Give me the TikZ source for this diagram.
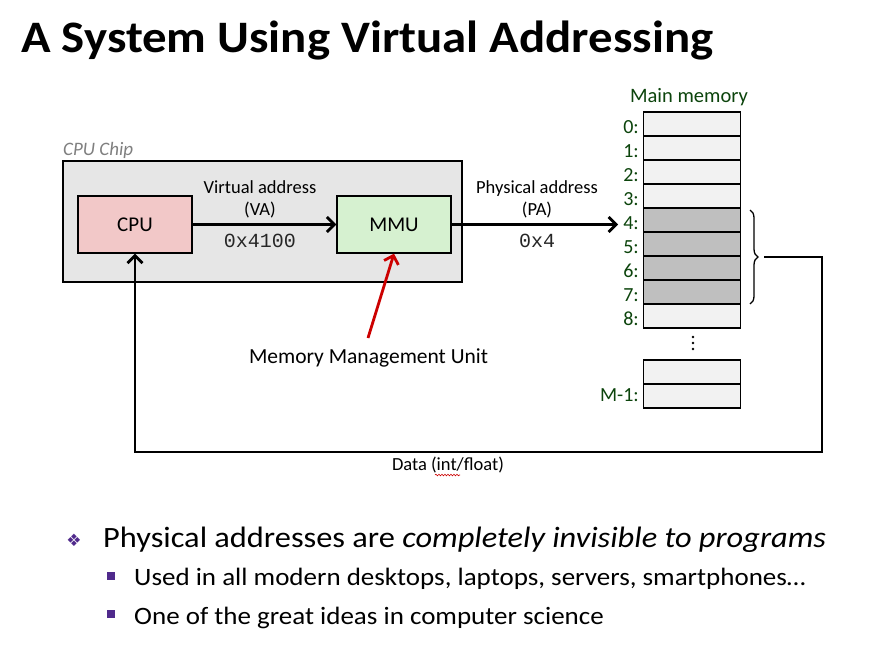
\documentclass[tikz,border=0pt]{standalone}
\usepackage{fontspec}
\setmainfont{Carlito}
\newfontfamily\monof{Liberation Mono}
\newfontfamily\dejavu{DejaVu Sans}
\usetikzlibrary{arrows.meta,decorations.pathreplacing,decorations.pathmorphing,calc}
\definecolor{chipgray}{RGB}{230,230,230}
\definecolor{cpupink}{RGB}{242,200,200}
\definecolor{mmugreen}{RGB}{214,241,208}
\definecolor{celllight}{RGB}{242,242,242}
\definecolor{celldark}{RGB}{191,191,191}
\definecolor{memgreen}{RGB}{12,68,12}
\definecolor{arrred}{RGB}{204,0,0}
\definecolor{bulpurple}{RGB}{80,42,140}
\definecolor{labgray}{RGB}{128,128,128}
\tikzset{
  box/.style={draw, line width=1.3pt, minimum width=114pt, minimum height=57pt, inner sep=0pt, font=\fontsize{21}{24}\selectfont},
  cell/.style={draw, line width=1.8pt, minimum width=97pt, minimum height=24pt, inner sep=0pt},
  memlab/.style={text=memgreen, font=\fontsize{20}{22}\selectfont, inner sep=2pt},
  smalllab/.style={font=\fontsize{18.5}{21}\selectfont, inner sep=0pt, anchor=base},
  hexlab/.style={font=\monof\fontsize{20}{22}\selectfont, inner sep=0pt, anchor=base, text=black!85},
  arr/.style={line width=2.8pt, -{Straight Barb[length=7.5pt,width=15pt,line width=2.8pt]}},
  redarr/.style={arr, draw=arrred, -{Straight Barb[length=7.5pt,width=15pt,line width=2.8pt,color=arrred]}},
}
\begin{document}
\begin{tikzpicture}[x=1pt,y=-1pt]
\useasboundingbox[fill=white] (0,0) rectangle (874,657);

% title
\node[anchor=base west, inner sep=0pt, font=\bfseries\fontsize{45}{48}\selectfont] (title) at (21,52) {\scalebox{1.085}[1]{A System Using Virtual Addressing}};

% CPU chip
\node[draw, line width=1.3pt, fill=chipgray, minimum width=399pt, minimum height=121pt, inner sep=0pt] (chip) at (262.5,221.5) {};
\node[anchor=base west, inner sep=0pt, text=labgray, font=\itshape\fontsize{19}{22}\selectfont] (chiplab) at (63,155) {CPU Chip};

\node[box, fill=cpupink] (cpu) at (135,224.5) {CPU};
\node[box, fill=mmugreen] (mmu) at (394,224.5) {MMU};

\draw[arr] (cpu) -- (mmu);
\node[smalllab] (va1) at (260,193) {Virtual address};
\node[smalllab] (va2) at (260,215) {(VA)};
\node[hexlab] (vahex) at (260,247) {0x4100};

% memory
\node[anchor=base, inner sep=0pt, text=memgreen, font=\fontsize{20.5}{23}\selectfont] (memtitle) at (689,102) {Main memory};
\foreach \i in {0,...,8}{
  \ifnum\i<4
    \node[cell, fill=celllight] (m\i) at (692,{124+24*\i}) {};
  \else\ifnum\i<8
    \node[cell, fill=celldark] (m\i) at (692,{124+24*\i}) {};
  \else
    \node[cell, fill=celllight] (m\i) at (692,{124+24*\i}) {};
  \fi\fi
  \node[memlab, anchor=base east] (l\i) at (641,{133+24*\i}) {\i:};
}
\node[cell, fill=celllight] (mA) at (692,372) {};
\node[cell, fill=celllight] (mB) at (692,396) {};
\node[memlab, anchor=base east] (lM) at (641,401) {M-1:};
\foreach \d in {337,343,349}{
  \fill (693,\d) circle (1.3pt);
}

\draw[arr, shorten >=3pt] (mmu.east) -- (mmu.east -| l4.west);
\node[smalllab] (pa1) at (537,193) {Physical address};
\node[smalllab] (pa2) at (537,215) {(PA)};
\node[hexlab] (pahex) at (537,247) {0x4};

% brace and data path
\draw[line width=1.3pt, decorate, decoration={brace, amplitude=8pt}] (750,210) -- (750,304);
\coordinate (btip) at (764,257);
\coordinate (dataR) at (822,452);
\draw[arr] (btip) -| (dataR) -| (cpu.south);
\node[smalllab] (datalab) at (448,470) {Data (int/float)};
\draw[arrred, line width=0.6pt, decorate, decoration={snake, amplitude=0.8pt, segment length=3pt}] (435,475) -- (460,475);

% MMU label
\node[anchor=base, inner sep=0pt, font=\fontsize{21.5}{24}\selectfont] (mmlabel) at (368.5,363) {Memory Management Unit};
\coordinate (redstart) at (368,338);
\draw[redarr] (redstart) -- (mmu.south);

% bullets
\node[text=bulpurple, inner sep=0pt, font=\dejavu\fontsize{17}{18}\selectfont] (b0) at (74,540) {❖};
\node[anchor=base west, inner sep=0pt, font=\fontsize{29.5}{32}\selectfont] (t0) at (103,547) {\scalebox{1.098}[1]{Physical addresses are \textit{completely invisible to programs}}};
\node[fill=bulpurple, minimum size=8pt, inner sep=0pt] (b1) at (110.5,576) {};
\node[anchor=base west, inner sep=0pt, font=\fontsize{25}{28}\selectfont] (t1) at (134,585) {\scalebox{1.08}[1]{Used in all modern desktops, laptops, servers, smartphones…}};
\node[fill=bulpurple, minimum size=8pt, inner sep=0pt] (b2) at (110.5,614) {};
\node[anchor=base west, inner sep=0pt, font=\fontsize{25}{28}\selectfont] (t2) at (134,624) {\scalebox{1.08}[1]{One of the great ideas in computer science}};
\end{tikzpicture}
\end{document}
